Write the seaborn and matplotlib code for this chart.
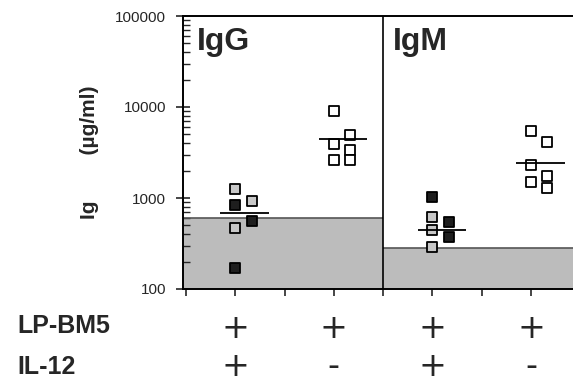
import numpy as np
import pandas as pd
import seaborn as sns
import matplotlib.pyplot as plt
import matplotlib.transforms as mtransforms

# values (Ig in ug/ml)
groups = ["IgG LP+ IL12+", "IgG LP+ IL12-", "IgM LP+ IL12+", "IgM LP+ IL12-"]
igg_il12_vals = [1257, 838, 468, 170, 927, 558]
igg_il12_kind = ["grey", "black", "grey", "black", "grey", "black"]
igg_ctrl_vals = [9040, 3917, 2620, 4920, 3365, 2620]
igg_ctrl_kind = ["white"] * 6
igm_il12_vals = [1025, 618, 445, 289, 545, 373]
igm_il12_kind = ["black", "grey", "grey", "grey", "black", "black"]
igm_ctrl_vals = [5445, 2306, 1500, 4122, 1746, 1288]
igm_ctrl_kind = ["white"] * 6
column = [0, 0, 0, 0, 1, 1]  # which of the two side-by-side columns
column_w = [0, 0, 0, 1, 1, 1]
group_means = [684, 4446, 445, 2425]
background = {"IgG": 600, "IgM": 280}
lp_bm5 = ["+", "+", "+", "+"]
il_12 = ["+", "-", "+", "-"]

rows = []
for g, (vals, kinds, cols) in enumerate([
        (igg_il12_vals, igg_il12_kind, column),
        (igg_ctrl_vals, igg_ctrl_kind, column_w),
        (igm_il12_vals, igm_il12_kind, column),
        (igm_ctrl_vals, igm_ctrl_kind, column_w)]):
    for v, k, c in zip(vals, kinds, cols):
        rows.append({"group": groups[g], "pos": 2 * g + 1 + 0.33 * c, "value": v, "kind": k})
df = pd.DataFrame(rows)

sns.set_style("ticks")
plt.rcParams['font.family'] = ['Liberation Sans', 'DejaVu Sans']

fig = plt.figure(figsize=(5.73, 3.82), dpi=100)
ax = fig.add_axes([183 / 573, 93 / 382, 390 / 573, 273 / 382])
ax.set_yscale("log")
ax.set_xlim(-0.06, 7.85)
ax.set_ylim(100, 100000)

# background (normal mouse) range
ax.fill_between([-0.06, 4], 100, background["IgG"], color="#bcbcbc", lw=0, zorder=0)
ax.fill_between([4, 7.85], 100, background["IgM"], color="#bcbcbc", lw=0, zorder=0)
ax.hlines(background["IgG"], -0.06, 4, color="#555555", lw=1.2, zorder=1)
ax.hlines(background["IgM"], 4, 7.85, color="#555555", lw=1.2, zorder=1)
ax.axvline(4, color="black", lw=1.2, zorder=2)

face = {"black": "#1e1e1e", "grey": "#c8c8c8", "white": "white"}
for kind, sub in df.groupby("kind"):
    sns.scatterplot(data=sub, x="pos", y="value", marker="s", s=58,
                    color=face[kind], edgecolor="black", linewidth=1.3,
                    ax=ax, zorder=4, legend=False)

for g, m in enumerate(group_means):
    ax.hlines(m, 2 * g + 1 - 0.3, 2 * g + 1 + 0.68, color="black", lw=1.3, zorder=5)

ax.text(0.22, 52000, "IgG", fontsize=23, fontweight="bold", va="center", ha="left")
ax.text(4.2, 52000, "IgM", fontsize=23, fontweight="bold", va="center", ha="left")

ax.set_xticks(np.arange(0, 8))
ax.set_xticklabels([])
ax.set_yticks([100, 1000, 10000, 100000])
ax.set_yticklabels(["100", "1000", "10000", "100000"])
ax.tick_params(axis="y", which="major", direction="inout", length=10, width=1.2,
               labelsize=11, pad=7)
ax.tick_params(axis="y", which="minor", direction="in", length=5, width=1)
ax.tick_params(axis="x", which="major", direction="out", length=5, width=1.2)
for side in ["left", "top", "bottom"]:
    ax.spines[side].set_linewidth(1.4)
    ax.spines[side].set_color("black")
ax.spines["right"].set_visible(False)
ax.set_xlabel("")
ax.set_ylabel("Ig        (µg/ml)", fontsize=15, fontweight="bold")
ax.yaxis.set_label_coords(-84 / 390, 0.5)

# treatment table under the axis
trans = mtransforms.blended_transform_factory(ax.transData, fig.transFigure)
fig.text(17 / 573, 1 - 326 / 382, "LP-BM5", fontsize=18, fontweight="bold", va="center")
fig.text(17 / 573, 1 - 367 / 382, "IL-12", fontsize=18, fontweight="bold", va="center")
for g in range(4):
    ax.text(2 * g + 1, 1 - 329 / 382, lp_bm5[g], transform=trans, ha="center", va="center",
            fontsize=24, family="DejaVu Sans")
    ax.text(2 * g + 1, 1 - 366.5 / 382, il_12[g], transform=trans, ha="center", va="center",
            fontsize=24, family="DejaVu Sans")

fig.savefig("out.png", dpi=100)
